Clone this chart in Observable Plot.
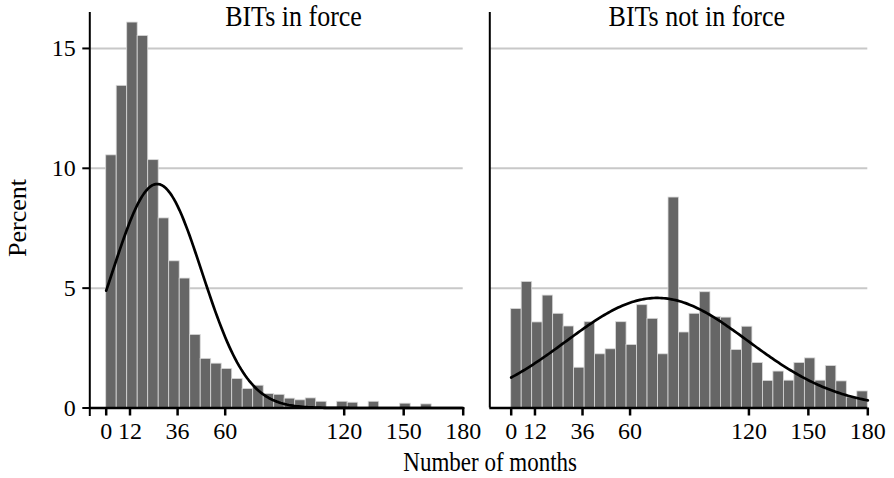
<!DOCTYPE html>
<html>
<head>
<meta charset="utf-8">
<script src="https://cdn.jsdelivr.net/npm/d3@7"></script>
<script src="https://cdn.jsdelivr.net/npm/@observablehq/plot@0.6"></script>
<style>
  body { margin: 0; background: #fff; }
  #wrap { position: relative; width: 894px; height: 478px; overflow: hidden; }
  #wrap svg { position: absolute; top: 0; overflow: visible; }
</style>
</head>
<body>
<div id="wrap"></div>
<script>
// ---- data ----
const binWidth = 180 / 34;               // months per bar
const xTicks = [0, 12, 36, 60, 120, 150, 180];
const yTicks = [0, 5, 10, 15];
const panelTitles = ["BITs in force", "BITs not in force"];
const xTitle = "Number of months";
const yTitle = "Percent";

// percent of observations per bin (34 bins from 0 to 180 months)
const inForcePct = [10.54, 13.44, 16.08, 15.52, 10.34, 7.91, 6.12, 5.40, 3.05, 2.05,
                    1.85, 1.63, 1.21, 0.79, 0.93, 0.58, 0.55, 0.39, 0.32, 0.40,
                    0.26, 0, 0.26, 0.22, 0, 0.26, 0, 0, 0.18, 0,
                    0.15, 0, 0, 0];
const notInForcePct = [4.13, 5.26, 3.57, 4.69, 3.93, 3.40, 1.68, 3.58, 2.24, 2.45,
                       3.58, 2.63, 4.29, 3.72, 2.24, 8.78, 3.15, 3.93, 4.83, 3.79,
                       3.77, 2.42, 3.39, 1.88, 1.13, 1.52, 1.14, 1.88, 2.07, 1.14,
                       1.75, 1.11, 0.44, 0.69];

// fitted normal curves (mean, sd in months)
const inForceFit = {mean: 25.7, sd: 22.6};
const notInForceFit = {mean: 73.7, sd: 46.0};

// ---- helpers ----
function binTable(pcts) {
  return pcts.map((p, i) => ({x1: i * binWidth, x2: (i + 1) * binWidth, pct: p}))
             .filter(d => d.pct > 0);
}
function normalCurve({mean, sd}) {
  const pts = [];
  for (let m = 0; m <= 180; m += 1) {
    pts.push({x: m, y: 100 * binWidth * Math.exp(-((m - mean) ** 2) / (2 * sd * sd)) / (sd * Math.sqrt(2 * Math.PI))});
  }
  return pts;
}

const font = '"Liberation Serif", "Times New Roman", serif';

function panel({pcts, fit, title, width, marginLeft, marginRight, xMin, showY, titleDx, extra = []}) {
  return Plot.plot({
    width, height: 478,
    marginLeft, marginRight, marginTop: 12, marginBottom: 70.5,
    style: {fontFamily: font, fontSize: "24px", background: "transparent", overflow: "visible", color: "black"},
    x: {domain: [xMin, 180]},
    y: {domain: [0, 16.5], axis: showY ? undefined : null},
    marks: [
      Plot.ruleY([5, 10, 15], {stroke: "#c8c8c8", strokeWidth: 2}),
      Plot.rectY(binTable(pcts), {x1: "x1", x2: "x2", y1: 0, y2: "pct", fill: "#666666", stroke: "#d9d9d9", strokeWidth: 0.8}),
      Plot.line(normalCurve(fit), {x: "x", y: "y", stroke: "black", strokeWidth: 2.7}),
      Plot.ruleY([0], {stroke: "black", strokeWidth: 2.5}),
      Plot.ruleX([xMin], {y1: showY ? -0.35 : 0, y2: 16.5, stroke: "black", strokeWidth: 2}),
      Plot.axisX(xTicks, {tickSize: 8, tickPadding: 6, strokeWidth: 2.5, fontSize: 24, label: null}),
      showY ? Plot.axisY(yTicks, {tickSize: 7, tickPadding: 7, strokeWidth: 2, fontSize: 24, label: null}) : null,
      Plot.text([title], {frameAnchor: "top", dx: titleDx, dy: 13.7, textAnchor: "middle", lineAnchor: "bottom", fontSize: 26}),
      ...extra
    ]
  });
}

// stretch the title texts vertically, about their own anchor
function stretchTitles(svg, names, sy) {
  svg.querySelectorAll("text").forEach(t => {
    if (!names.includes(t.textContent)) return;
    const x = +(t.getAttribute("x") || 0), y = +(t.getAttribute("y") || 0);
    const tr = t.getAttribute("transform") || "";
    t.setAttribute("transform", `${tr} translate(${x},${y}) scale(1,${sy}) translate(${-x},${-y})`);
  });
}

const wrap = document.getElementById("wrap");

const left = panel({
  pcts: inForcePct, fit: inForceFit, title: panelTitles[0],
  width: 470, marginLeft: 89.3, marginRight: 7.3, xMin: -8.27, showY: true, titleDx: 17,
  extra: [
    Plot.text([yTitle], {frameAnchor: "left", rotate: -90, dx: -72.6, dy: 7.75, textAnchor: "middle", lineAnchor: "middle", fontSize: 26})
  ]
});
left.style.left = "0px";
stretchTitles(left, [panelTitles[0]], 1.17);
wrap.appendChild(left);

const right = panel({
  pcts: notInForcePct, fit: notInForceFit, title: panelTitles[1],
  width: 424, marginLeft: 19.3, marginRight: 26.7, xMin: -10.8, showY: false, titleDx: 18,
  extra: [
    Plot.text([xTitle], {frameAnchor: "bottom-left", dx: 0.4, dy: 62.5, textAnchor: "middle", lineAnchor: "bottom", fontSize: 23})
  ]
});
right.style.left = "470px";
stretchTitles(right, [panelTitles[1], xTitle], 1.17);
wrap.appendChild(right);
</script>
</body>
</html>
